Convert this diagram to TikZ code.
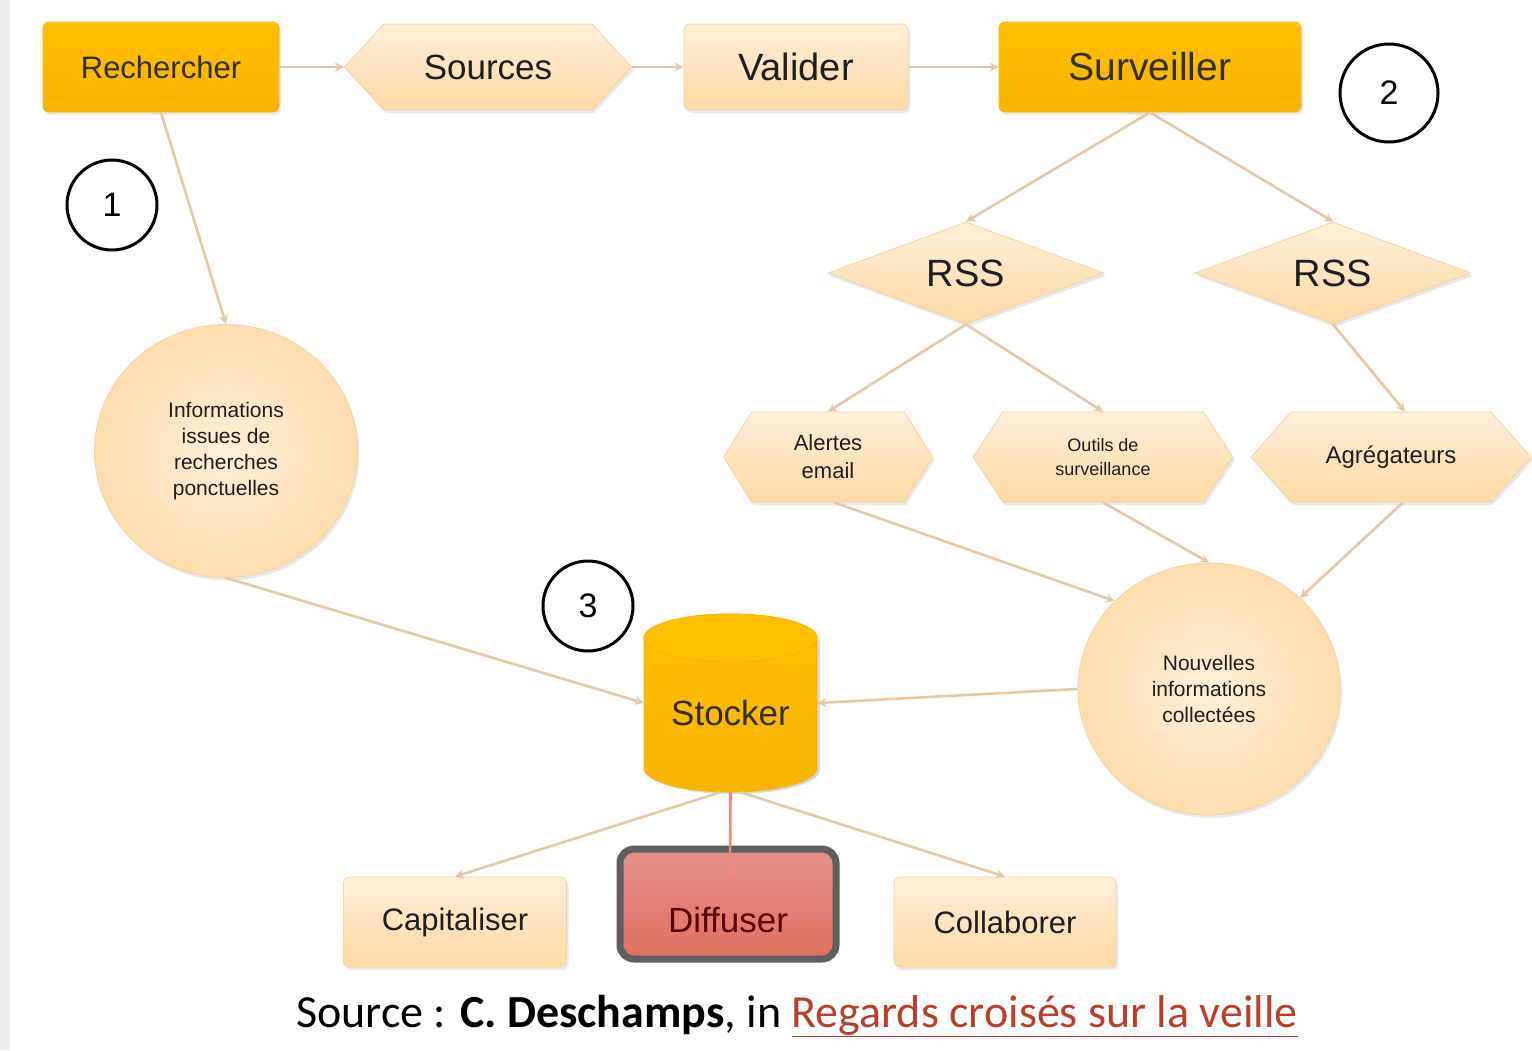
\documentclass[tikz,border=0pt]{standalone}
\usepackage{fontspec}
\setmainfont{Liberation Sans}
\newfontfamily\srcfont{Carlito}
\usetikzlibrary{shapes.geometric,shapes.symbols,arrows.meta,shadows}
\definecolor{gold}{HTML}{FFC000}
\definecolor{golddark}{HTML}{F6B400}
\definecolor{lighttop}{HTML}{FEF0DA}
\definecolor{lightbot}{HTML}{FBD9A2}
\definecolor{lightline}{HTML}{EFD3A8}
\definecolor{conncol}{HTML}{E2C8A8}
\definecolor{leftgray}{HTML}{EFEDE8}
\definecolor{redtop}{HTML}{E5908A}
\definecolor{redbot}{HTML}{DE715F}
\definecolor{redborder}{HTML}{5F5F5F}
\definecolor{linkcol}{HTML}{B4412C}
\definecolor{txt}{HTML}{1E1E1E}
\newcommand\fsz[2]{\fontsize{#1}{#2}\selectfont}
\begin{document}
\begin{tikzpicture}[x=1pt,y=-1pt,
  shad/.style={drop shadow={opacity=0.18,shadow xshift=2pt,shadow yshift=-3pt}},
  goldbox/.style={shape=rectangle,rounded corners=6pt,top color=gold,bottom color=golddark,draw=golddark,line width=0.8pt,text=txt!85!brown,shad},
  lightbox/.style={shape=rectangle,rounded corners=6pt,top color=lighttop,bottom color=lightbot,draw=lightline,line width=0.8pt,text=txt,shad},
  hexa/.style={shape=signal,signal to=east and west,top color=lighttop,bottom color=lightbot,draw=lightline,line width=0.8pt,text=txt,inner sep=0pt,shad},
  diam/.style={shape=diamond,aspect=2.7,inner sep=0pt,top color=lighttop,bottom color=lightbot,draw=lightline,line width=0.8pt,text=txt,minimum width=276pt,minimum height=102pt,shad},
  bubble/.style={shape=ellipse,inner color=lighttop,outer color=lightbot!80!lighttop,draw=lightline,line width=0.8pt,text=txt,align=center,shad},
  numcirc/.style={shape=circle,draw=black,line width=3pt,fill=white,minimum size=90pt,inner sep=0pt,font=\fsz{34}{40}},
  conn/.style={draw=conncol,line width=2.6pt,-{Stealth[length=9pt,width=9pt]}},
]
\useasboundingbox (0,0) rectangle (1532,1050);
\fill[white] (0,0) rectangle (1532,1050);
\fill[leftgray] (0,0) rectangle (10,1050);

% top row
\node[goldbox,minimum width=236pt,minimum height=90pt,font=\fsz{31}{37}] (rech) at (161,67) {Rechercher};
\node[hexa,signal pointer angle=95,minimum width=287pt,minimum height=86pt,font=\fsz{35}{40}] (src) at (488,67) {Sources};
\node[lightbox,minimum width=224pt,minimum height=86pt,font=\fsz{38}{44}] (val) at (796,67) {Valider};
\node[goldbox,minimum width=302pt,minimum height=90pt,font=\fsz{39}{45}] (surv) at (1150,67) {Surveiller};

% numbered circles
\node[numcirc] (n1) at (112,205) {1};
\node[numcirc,minimum size=98pt] (n2) at (1389,93) {2};
\node[numcirc] (n3) at (588,606) {3};

% diamonds
\node[diam,font=\fsz{38}{44}] (rss1) at (966,273) {RSS};
\node[diam,font=\fsz{38}{44}] (rss2) at (1333,273) {RSS};

% hexagons
\node[hexa,signal pointer angle=116,minimum width=209pt,minimum height=90pt,font=\fsz{22}{28},align=center] (alert) at (828,457) {Alertes\\email};
\node[hexa,signal pointer angle=113,minimum width=260pt,minimum height=90pt,font=\fsz{18}{24},align=center] (outil) at (1103,457) {Outils de\\surveillance};
\node[hexa,signal pointer angle=97,minimum width=280pt,minimum height=90pt,font=\fsz{24}{28}] (agr) at (1391,457) {Agrégateurs};

% bubbles
\node[bubble,minimum width=263pt,minimum height=253pt,font=\fsz{21}{26}] (info) at (226,451) {Informations\\issues de\\recherches\\ponctuelles};
\node[bubble,minimum width=262pt,minimum height=252pt,font=\fsz{21}{26}] (nouv) at (1209,689) {Nouvelles\\informations\\collectées};

% cylinder (Stocker)
\node[minimum width=173pt,minimum height=178pt,inner sep=0pt] (stock) at (730.5,703) {};
\fill[black,opacity=0.15] (647,640) -- (647,770) arc[start angle=180,end angle=360,x radius=86.5pt,y radius=24pt] -- (820,640) -- cycle;
\shade[top color=gold,bottom color=golddark,draw=golddark,line width=0.8pt]
  (644,638) -- (644,768) arc[start angle=180,end angle=360,x radius=86.5pt,y radius=24pt]
  -- (817,638) arc[start angle=0,end angle=180,x radius=86.5pt,y radius=24pt] -- cycle;
\draw[golddark,line width=0.8pt,fill=gold] (730.5,638) ellipse[x radius=86.5pt,y radius=24pt];
\node[font=\fsz{35}{40},text=txt!85!brown] at (730.5,713) {Stocker};

% bottom row
\node[lightbox,minimum width=223pt,minimum height=90pt,font=\fsz{31}{37}] (cap) at (455,922) {Capitaliser};
\node[lightbox,minimum width=222pt,minimum height=90pt,font=\fsz{31}{37}] (col) at (1005,922) {Collaborer};
\node[shape=rectangle,rounded corners=14pt,top color=redtop,bottom color=redbot,draw=redborder,line width=7pt,minimum width=216pt,minimum height=110pt,font=\fsz{35}{40},text=red!35!black,text height=56pt,text depth=0pt,shad] (diff) at (728,904) {Diffuser};
\coordinate (dtop) at (730,877);

% connectors
\draw[conn] (rech.east) -- (src.west);
\draw[conn] (src.east) -- (val.west);
\draw[conn] (val.east) -- (surv.west);
\draw[conn] (rech.south) -- (info.north);
\draw[conn] (surv.south) -- (rss1.north);
\draw[conn] (surv.south) -- (rss2.north);
\draw[conn] (rss1.south) -- (alert.north);
\draw[conn] (rss1.south) -- (outil.north);
\draw[conn] (rss2.south) -- ([xshift=14pt]agr.north);
\draw[conn] ([xshift=6pt]alert.south) -- (nouv.137);
\draw[conn] (outil.south) -- (nouv.north);
\draw[conn] ([xshift=12pt]agr.south) -- (nouv.45);
\draw[conn] (nouv.west) -- (stock.east);
\draw[conn] (info.south) -- (stock.west);
\draw[conn] ([xshift=-10pt]stock.south) -- (cap.north);
\draw[conn,draw=conncol!70!red] (stock.south) -- (dtop);
\draw[conn] ([xshift=10pt]stock.south) -- (col.north);

% source line
\node[font=\srcfont\fsz{46}{52},text=black,anchor=center] (source) at (797,1016)
  {Source : \textbf{C. Deschamps}, in \textcolor{linkcol}{\underline{Regards croisés sur la veille}}};
\end{tikzpicture}
\end{document}
